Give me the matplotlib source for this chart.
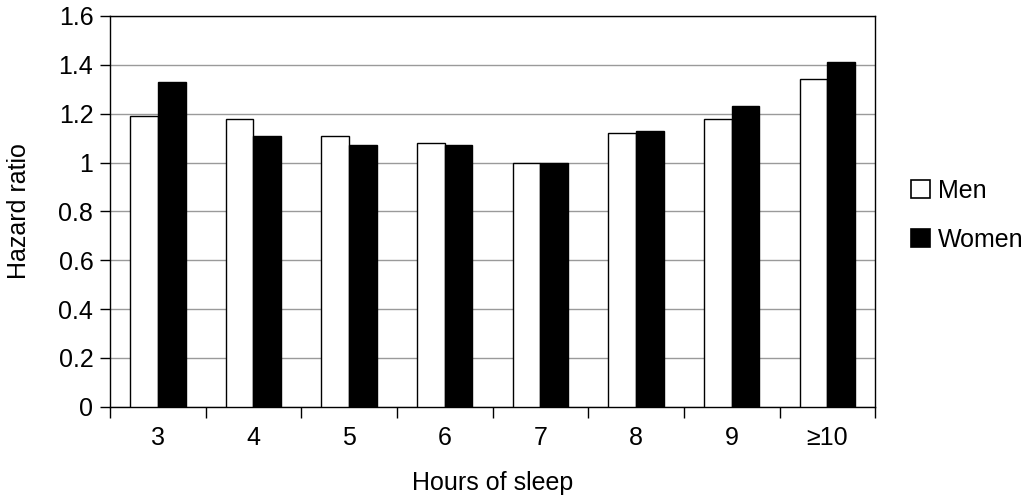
import matplotlib.pyplot as plt
import numpy as np
from matplotlib.patches import Patch

# 数据
hours = ['3', '4', '5', '6', '7', '8', '9', '≥10']
men = [1.19, 1.18, 1.11, 1.08, 1.00, 1.12, 1.18, 1.34]
women = [1.33, 1.11, 1.07, 1.07, 1.00, 1.13, 1.23, 1.41]


def plot_hazard():
    plt.rcParams['font.family'] = ['Liberation Sans', 'DejaVu Sans']

    fig = plt.figure(figsize=(10.23, 4.98), dpi=100)
    ax = fig.add_axes([0.1075, 0.183, 0.748, 0.785])

    x = np.arange(len(hours))
    w = 0.29
    ax.bar(x - w / 2, men, w, color='white', edgecolor='black', linewidth=1, zorder=3)
    ax.bar(x + w / 2, women, w, color='black', edgecolor='black', linewidth=1, zorder=3)

    ax.set_xlim(-0.5, len(hours) - 0.5)
    ax.set_ylim(0, 1.6)
    ax.set_yticks(np.arange(0, 1.61, 0.2))
    ax.set_yticklabels(['0', '0.2', '0.4', '0.6', '0.8', '1', '1.2', '1.4', '1.6'])
    ax.yaxis.grid(True, color='#9a9a9a', linewidth=1, zorder=0)

    # x 轴刻度放在分组边界
    ax.set_xticks(x)
    ax.set_xticklabels(hours)
    ax.set_xticks(np.arange(-0.5, len(hours)), minor=True)
    ax.tick_params(axis='x', which='major', length=0, pad=14, labelsize=18)
    ax.tick_params(axis='x', which='minor', length=8, width=1, direction='out')
    ax.tick_params(axis='y', length=7, width=1, labelsize=18, pad=5)

    for s in ax.spines.values():
        s.set_linewidth(1)
        s.set_color('black')

    ax.set_xlabel('Hours of sleep', fontsize=18, labelpad=15)
    ax.set_ylabel('Hazard ratio', fontsize=18, labelpad=20)

    handles = [Patch(facecolor='white', edgecolor='black', linewidth=1.2),
               Patch(facecolor='black', edgecolor='black', linewidth=1.2)]
    fig.legend(handles, ['Men', 'Women'], loc='center left',
               bbox_to_anchor=(0.891, 0.568), frameon=False, fontsize=18,
               handlelength=0.75, handleheight=0.75, handletextpad=0.3,
               labelspacing=1.0, borderaxespad=0, borderpad=0)

    fig.savefig('out.png', dpi=100)


def main():
    plot_hazard()


if __name__ == '__main__':
    main()
